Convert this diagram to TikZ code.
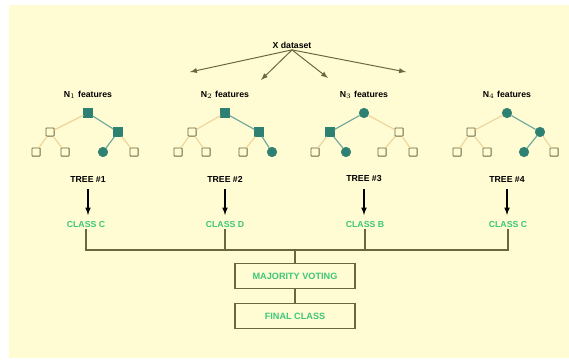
\documentclass[tikz,border=0pt]{standalone}
\usepackage{fontspec}
\setmainfont{Liberation Sans}
\definecolor{paper}{HTML}{FFFBD2}
\definecolor{tealnode}{HTML}{2E8072}
\definecolor{paleedge}{HTML}{EFD49A}
\definecolor{olive}{HTML}{6B6640}
\definecolor{leafgreen}{HTML}{3DC77A}

\begin{document}
\begin{tikzpicture}[x=0.025cm,y=-0.025cm,
	lab/.style={font=\fontsize{6.2}{7}\selectfont\bfseries, inner sep=1pt},
	cls/.style={lab, text=leafgreen},
	hol/.style={rectangle, draw=olive, fill=paper, rounded corners=0.4pt, minimum size=5.8pt, inner sep=0pt, line width=0.6pt},
	ful/.style={rectangle, draw=tealnode, fill=tealnode, minimum size=6.2pt, inner sep=0pt},
	fulc/.style={circle, draw=tealnode, fill=tealnode, minimum size=6.8pt, inner sep=0pt},
	pale/.style={draw=paleedge, line width=0.8pt},
	path/.style={draw=tealnode!70, line width=0.8pt},
	bus/.style={draw=olive, line width=1.1pt},
	votebox/.style={draw=olive, fill=paper, line width=0.9pt, minimum width=3cm, minimum height=0.64cm, font=\fontsize{6.5}{7}\selectfont\bfseries, text=leafgreen}]
	% page and background
	\useasboundingbox (0,0) rectangle (569,361);
	\fill[white] (0,0) rectangle (569,361);
	\fill[paper] (9,5) rectangle (569,358);
	
	% data set and its samples
	\node[lab] (xd) at (292,45) {X dataset};
	\coordinate (d1) at (190,72);
	\coordinate (d2) at (261,80);
	\coordinate (d3) at (328,78);
	\coordinate (d4) at (406,72);
	\draw[->,>=latex, olive, line width=0.7pt] (xd.south) -- (d1);
	\draw[->,>=latex, olive, line width=0.7pt] (xd.south) -- (d2);
	\draw[->,>=latex, olive, line width=0.7pt] (xd.south) -- (d3);
	\draw[->,>=latex, olive, line width=0.7pt] (xd.south) -- (d4);
	
	% feature labels
	\node[lab] (f1) at (88,95) {N$_1$ features};
	\node[lab] (f2) at (225,95) {N$_2$ features};
	\node[lab] (f3) at (364,95) {N$_3$ features};
	\node[lab] (f4) at (507,95) {N$_4$ features};
	
	% tree 1
	\node[ful] (t1r) at (88,113) {};
	\node[hol] (t1a) at (50,132) {};
	\node[ful] (t1b) at (118,132) {};
	\node[hol] (t1l1) at (36,152) {};
	\node[hol] (t1l2) at (65,152) {};
	\node[fulc] (t1l3) at (103,152) {};
	\node[hol] (t1l4) at (134,152) {};
	\draw[pale] (t1r) -- (t1a) (t1a) -- (t1l1) (t1a) -- (t1l2) (t1b) -- (t1l4);
	\draw[path] (t1r) -- (t1b) (t1b) -- (t1l3);
	
	% tree 2
	\node[ful] (t2r) at (225,113) {};
	\node[hol] (t2a) at (192,132) {};
	\node[ful] (t2b) at (259,132) {};
	\node[hol] (t2l1) at (178,152) {};
	\node[hol] (t2l2) at (206,152) {};
	\node[hol] (t2l3) at (243,152) {};
	\node[fulc] (t2l4) at (272,152) {};
	\draw[pale] (t2r) -- (t2a) (t2a) -- (t2l1) (t2a) -- (t2l2) (t2b) -- (t2l3);
	\draw[path] (t2r) -- (t2b) (t2b) -- (t2l4);
	
	% tree 3
	\node[fulc] (t3r) at (364,113) {};
	\node[ful] (t3a) at (330,132) {};
	\node[hol] (t3b) at (399,132) {};
	\node[hol] (t3l1) at (315,152) {};
	\node[fulc] (t3l2) at (346,152) {};
	\node[hol] (t3l3) at (382,152) {};
	\node[hol] (t3l4) at (413,152) {};
	\draw[pale] (t3r) -- (t3b) (t3a) -- (t3l1) (t3b) -- (t3l3) (t3b) -- (t3l4);
	\draw[path] (t3r) -- (t3a) (t3a) -- (t3l2);
	
	% tree 4
	\node[fulc] (t4r) at (507,113) {};
	\node[hol] (t4a) at (471,132) {};
	\node[fulc] (t4b) at (540,132) {};
	\node[hol] (t4l1) at (457,152) {};
	\node[hol] (t4l2) at (487,152) {};
	\node[fulc] (t4l3) at (524,152) {};
	\node[hol] (t4l4) at (554,152) {};
	\draw[pale] (t4r) -- (t4a) (t4a) -- (t4l1) (t4a) -- (t4l2) (t4b) -- (t4l4);
	\draw[path] (t4r) -- (t4b) (t4b) -- (t4l3);
	
	% tree names and their votes
	\node[lab] (n1) at (88,179) {TREE \#1};
	\node[lab] (n2) at (225,179) {TREE \#2};
	\node[lab] (n3) at (364,179) {TREE \#3};
	\node[lab] (n4) at (507,179) {TREE \#4};
	\node[cls] (c1) at (86,224) {CLASS C};
	\node[cls] (c2) at (225,224) {CLASS D};
	\node[cls] (c3) at (365,224) {CLASS B};
	\node[cls] (c4) at (508,224) {CLASS C};
	\draw[->,>=latex, line width=0.8pt, shorten <=4pt, shorten >=3pt] (n1) -- (n1 |- c1.north);
	\draw[->,>=latex, line width=0.8pt, shorten <=4pt, shorten >=3pt] (n2) -- (n2 |- c2.north);
	\draw[->,>=latex, line width=0.8pt, shorten <=4pt, shorten >=3pt] (n3) -- (n3 |- c3.north);
	\draw[->,>=latex, line width=0.8pt, shorten <=4pt, shorten >=3pt] (n4) -- (n4 |- c4.north);
	
	% voting
	\node[votebox] (maj) at (295,276) {MAJORITY VOTING};
	\node[votebox] (fin) at (295,316) {FINAL CLASS};
	\coordinate (hub) at (295,250);
	\draw[bus] (c1) -- (c1 |- hub) -- (c4 |- hub) -- (c4);
	\draw[bus] (c2) -- (c2 |- hub);
	\draw[bus] (c3) -- (c3 |- hub);
	\draw[bus] (hub) -- (maj);
	\draw[bus] (maj) -- (fin);
\end{tikzpicture}
\end{document}
